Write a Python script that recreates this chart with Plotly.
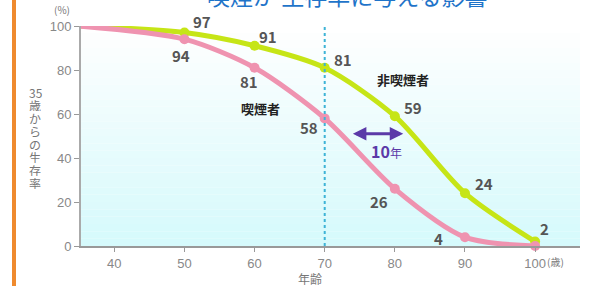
import plotly.graph_objects as go

ages = [35, 50, 60, 70, 80, 90, 100]
nonsmoker = [100, 97, 91, 81, 59, 24, 2]
smoker = [100, 94, 81, 58, 26, 4, 0]
x_ticks = [40, 50, 60, 70, 80, 90, 100]
y_ticks = [0, 20, 40, 60, 80, 100]
y_title_chars = ["35", "歳", "か", "ら", "の", "生", "存", "率"]

GREEN = "#c6e516"
PINK = "#ef93b0"
LBL = "#555555"
FONT = "Noto Sans CJK JP"

fig = go.Figure()

# gradient background
n = 30
for i in range(n):
    t = i / (n - 1)
    r = int(255 + (214 - 255) * t)
    g = int(255 + (250 - 255) * t)
    b = int(255 + (252 - 255) * t)
    fig.add_shape(type="rect", xref="paper", yref="paper", x0=0, x1=1,
                  y0=1 - (i + 1) / n, y1=1 - i / n, line_width=0,
                  fillcolor=f"rgb({r},{g},{b})", layer="below")

# orange bar at left
fig.add_shape(type="rect", xref="paper", yref="paper",
              x0=(12 - 81) / 499, x1=(16 - 81) / 499, y0=-1, y1=2,
              fillcolor="#ef8a2e", line_width=0)

# vertical dotted line at 70
fig.add_shape(type="line", x0=70, x1=70, y0=0, y1=100, xref="x", yref="y",
              line=dict(color="#3db3d6", width=2, dash="dot"))

fig.add_trace(go.Scatter(x=ages, y=nonsmoker, mode="lines", line=dict(color=GREEN, width=5, shape="spline", smoothing=0.8),
                         hoverinfo="skip", cliponaxis=False))
fig.add_trace(go.Scatter(x=ages[1:], y=nonsmoker[1:], mode="markers", marker=dict(color=GREEN, size=10),
                         cliponaxis=False))
fig.add_trace(go.Scatter(x=ages, y=smoker, mode="lines", line=dict(color=PINK, width=5, shape="spline", smoothing=0.8),
                         cliponaxis=False))
fig.add_trace(go.Scatter(x=ages[1:], y=smoker[1:], mode="markers", marker=dict(color=PINK, size=10),
                         cliponaxis=False))

ann = []
# pixel offsets (dx, dy downwards) of value labels from their points
ns_off = {50: (18, -11), 60: (13, -9), 70: (18, -8), 80: (18, -9), 90: (19, -10), 100: (9, -13)}
sm_off = {50: (-3, 16), 60: (-6, 14), 70: (-16, 9), 80: (-16, 13), 90: (-26, 1)}
for a, v in zip(ages, nonsmoker):
    if a in ns_off:
        dx, dy = ns_off[a]
        ann.append(dict(x=a, y=v, text=str(v), showarrow=False, xshift=dx, yshift=-dy,
                        font=dict(family=FONT, size=15, color=LBL, weight="bold")))
for a, v in zip(ages, smoker):
    if a in sm_off:
        dx, dy = sm_off[a]
        ann.append(dict(x=a, y=v, text=str(v), showarrow=False, xshift=dx, yshift=-dy,
                        font=dict(family=FONT, size=15, color=LBL, weight="bold")))

ann.append(dict(x=60.8, y=62.5, text="喫煙者", showarrow=False, font=dict(family=FONT, size=13, color="#222", weight="bold")))
ann.append(dict(x=81.2, y=75.9, text="非喫煙者", showarrow=False, font=dict(family=FONT, size=13, color="#222", weight="bold")))
ann.append(dict(x=78.8, y=43.2, text="<b>10</b><span style='font-size:12px'>年</span>", showarrow=False,
                font=dict(family=FONT, size=16, color="#5b3aa8")))
# double arrow
ann.append(dict(x=81.2, y=51, ax=73.8, ay=51, xref="x", yref="y", axref="x", ayref="y", text="",
                showarrow=True, arrowhead=2, arrowside="end+start", arrowwidth=3, arrowsize=0.9, arrowcolor="#5b3aa8"))

ann.append(dict(xref="paper", yref="paper", x=(52 - 81) / 499, y=1 + (26 - 10) / 219.7, text="(%)", showarrow=False,
                yanchor="middle", font=dict(family=FONT, size=10, color="#777")))
# vertical y-axis title, one character per line
for k, ch in enumerate(y_title_chars):
    py = 92 + 12.9 * k
    ann.append(dict(xref="paper", yref="paper", x=(28 - 81) / 499, y=1 - (py - 26) / 219.7,
                    text=ch, showarrow=False, yanchor="middle", height=12, borderpad=0,
                    font=dict(family=FONT, size=12, color="#777")))
ann.append(dict(xref="paper", yref="paper", x=(310 - 81) / 499, y=1 - (278 - 26) / 219.7, text="年齢", showarrow=False,
                yanchor="middle", font=dict(family=FONT, size=12, color="#777")))
ann.append(dict(xref="paper", yref="paper", x=(566 - 81) / 499, y=1 - (261 - 26) / 219.7, text="(歳)", showarrow=False,
                yanchor="middle", font=dict(family=FONT, size=10, color="#777")))
ann.append(dict(xref="paper", yref="paper", x=(347 - 81) / 499, y=1 + (26 + 5) / 219.7,
                text="喫煙が 生存率に与える影響", showarrow=False, yanchor="middle",
                font=dict(family=FONT, size=23, color="#1f74c9")))
fig.update_layout(annotations=ann)

fig.update_layout(
    width=592, height=286,
    margin=dict(l=81, r=12, t=26, b=40),
    paper_bgcolor="white", plot_bgcolor="rgba(0,0,0,0)",
    showlegend=False,
    xaxis=dict(range=[35.25, 106.4], tickvals=x_ticks, ticks="outside", ticklen=4, tickcolor="#999",
               showgrid=False, zeroline=False, showline=True, linecolor="#999", linewidth=2,
               tickfont=dict(family="Liberation Sans", size=13, color="#888")),
    yaxis=dict(range=[0, 100], tickvals=y_ticks, ticks="outside", ticklen=5, tickcolor="#999",
               showgrid=False, zeroline=False, showline=True, linecolor="#aaa", linewidth=2,
               tickfont=dict(family="Liberation Sans", size=13, color="#888")),
)

fig.write_html("out.html", config={"displayModeBar": False},
               post_script="document.body.style.margin='0';document.body.style.overflow='hidden';")
